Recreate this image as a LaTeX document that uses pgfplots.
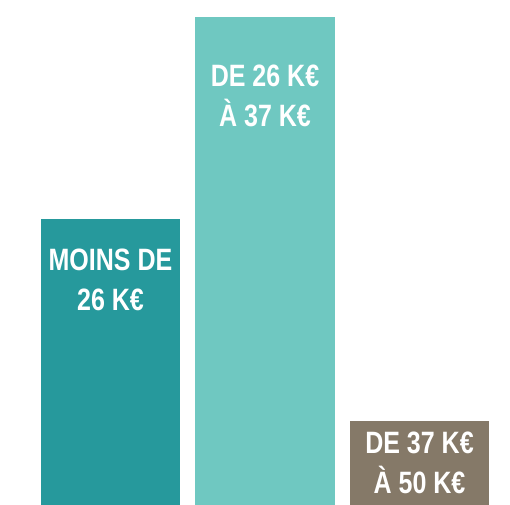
\documentclass[border=0pt]{standalone}
\usepackage{fontspec}
\setmainfont{Liberation Sans}
\newfontfamily\cond[FakeStretch=0.81]{Liberation Sans}
\usepackage{pgfplots}
\pgfplotsset{compat=1.18}
\definecolor{cA}{HTML}{26999C}
\definecolor{cB}{HTML}{6FC8C1}
\definecolor{cC}{HTML}{857968}
\begin{document}
\begin{tikzpicture}
\begin{axis}[width=510bp,height=505bp,scale only axis,hide axis,
  xmin=-0.7152,xmax=2.5858,ymin=0,ymax=60,clip=false]
\addplot[ybar,bar width=0.9,fill=cA,draw=none] coordinates {(0,34)};
\addplot[ybar,bar width=0.9,fill=cB,draw=none] coordinates {(1,58)};
\addplot[ybar,bar width=0.9,fill=cC,draw=none] coordinates {(2,10)};
\path (rel axis cs:0,0) rectangle (rel axis cs:1,1);
\tikzset{lbl/.style={anchor=north,inner sep=0pt,align=center,text=white,
  font=\cond\bfseries\fontsize{31}{40}\selectfont}}
\node[lbl] at (axis cs:0,30.42) {MOINS DE\\26 K€};
\node[lbl] at (axis cs:1,52.27) {DE 26 K€\\À 37 K€};
\node[lbl] at (axis cs:2,8.67) {DE 37 K€\\À 50 K€};
\end{axis}
\end{tikzpicture}
\end{document}
